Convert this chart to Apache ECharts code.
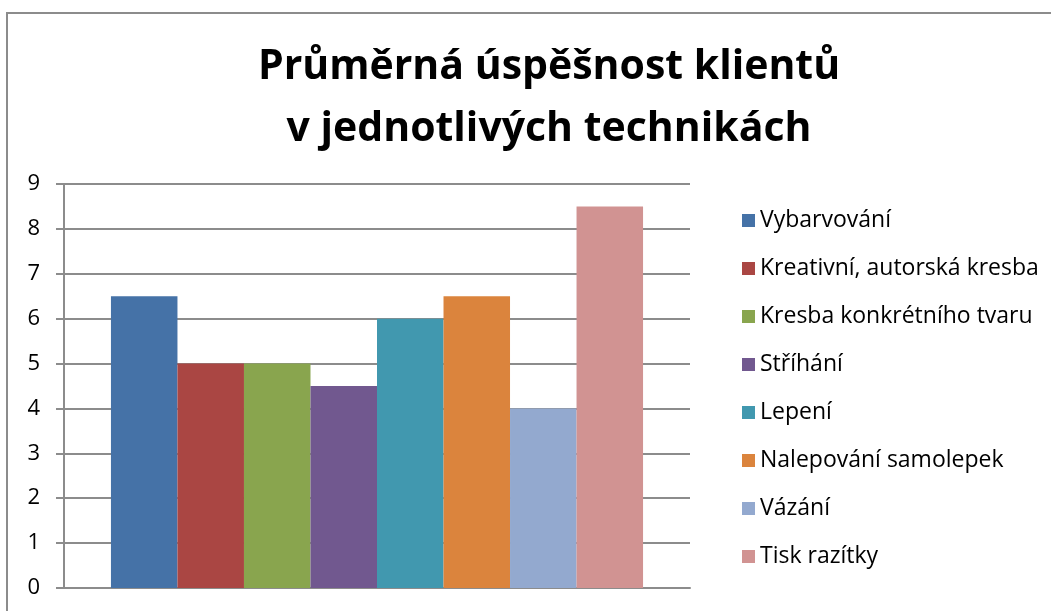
<!DOCTYPE html>
<html>
<head>
<meta charset="utf-8">
<script src="https://cdn.jsdelivr.net/npm/echarts@6/dist/echarts.min.js"></script>
<style>
  html, body { margin: 0; padding: 0; background: #fff; }
  #chart { width: 1051px; height: 611px; }
</style>
</head>
<body>
<div id="chart"></div>
<script>
const titleLines = ['Průměrná úspěšnost klientů', 'v jednotlivých technikách']
const categories = ['']
const seriesNames = [
  'Vybarvování',
  'Kreativní, autorská kresba',
  'Kresba konkrétního tvaru',
  'Stříhání',
  'Lepení',
  'Nalepování samolepek',
  'Vázání',
  'Tisk razítky'
]
const seriesValues = [6.5, 5, 5, 4.5, 6, 6.5, 4, 8.5]
const seriesColors = ['#4572A7', '#AA4643', '#89A54E', '#71588F', '#4198AF', '#DB843D', '#93A9CF', '#D19392']

const font = '"Open Sans", Lato, sans-serif'
const lineColor = '#8c8c8c'

const chart = echarts.init(document.getElementById('chart'))

const option = {
  animation: false,
  backgroundColor: '#fff',
  textStyle: { fontFamily: font },
  graphic: [
    {
      type: 'rect',
      shape: { x: 7, y: 13, width: 1200, height: 800 },
      style: { fill: 'none', stroke: lineColor, lineWidth: 2 }
    }
  ],
  title: {
    text: titleLines.join('\n'),
    left: 544,
    textAlign: 'center',
    top: 31,
    textStyle: {
      fontFamily: font,
      fontSize: 41,
      fontWeight: 'bold',
      color: '#000',
      lineHeight: 62
    }
  },
  legend: {
    orient: 'vertical',
    left: 737,
    top: 204,
    itemWidth: 13,
    itemHeight: 13,
    itemGap: 25,
    icon: 'rect',
    data: seriesNames,
    textStyle: { fontFamily: font, fontSize: 23, color: '#000' }
  },
  grid: { left: 64, right: 361, top: 184, bottom: 23 },
  xAxis: {
    type: 'category',
    data: categories,
    axisLine: { lineStyle: { color: lineColor, width: 2 } },
    axisTick: { show: false },
    axisLabel: { show: false }
  },
  yAxis: {
    type: 'value',
    min: 0,
    max: 9,
    interval: 1,
    axisLine: { show: true, lineStyle: { color: lineColor, width: 2 } },
    axisTick: { show: true, length: 8, lineStyle: { color: lineColor, width: 2 } },
    axisLabel: { fontFamily: font, fontSize: 22, color: '#000', margin: 24 },
    splitLine: { lineStyle: { color: lineColor, width: 2 } }
  },
  series: seriesNames.map(function (name, i) {
    return {
      type: 'bar',
      name: name,
      data: [seriesValues[i]],
      itemStyle: { color: seriesColors[i] },
      barGap: '0%',
      barCategoryGap: '15%'
    }
  })
}

chart.setOption(option)
</script>
</body>
</html>
